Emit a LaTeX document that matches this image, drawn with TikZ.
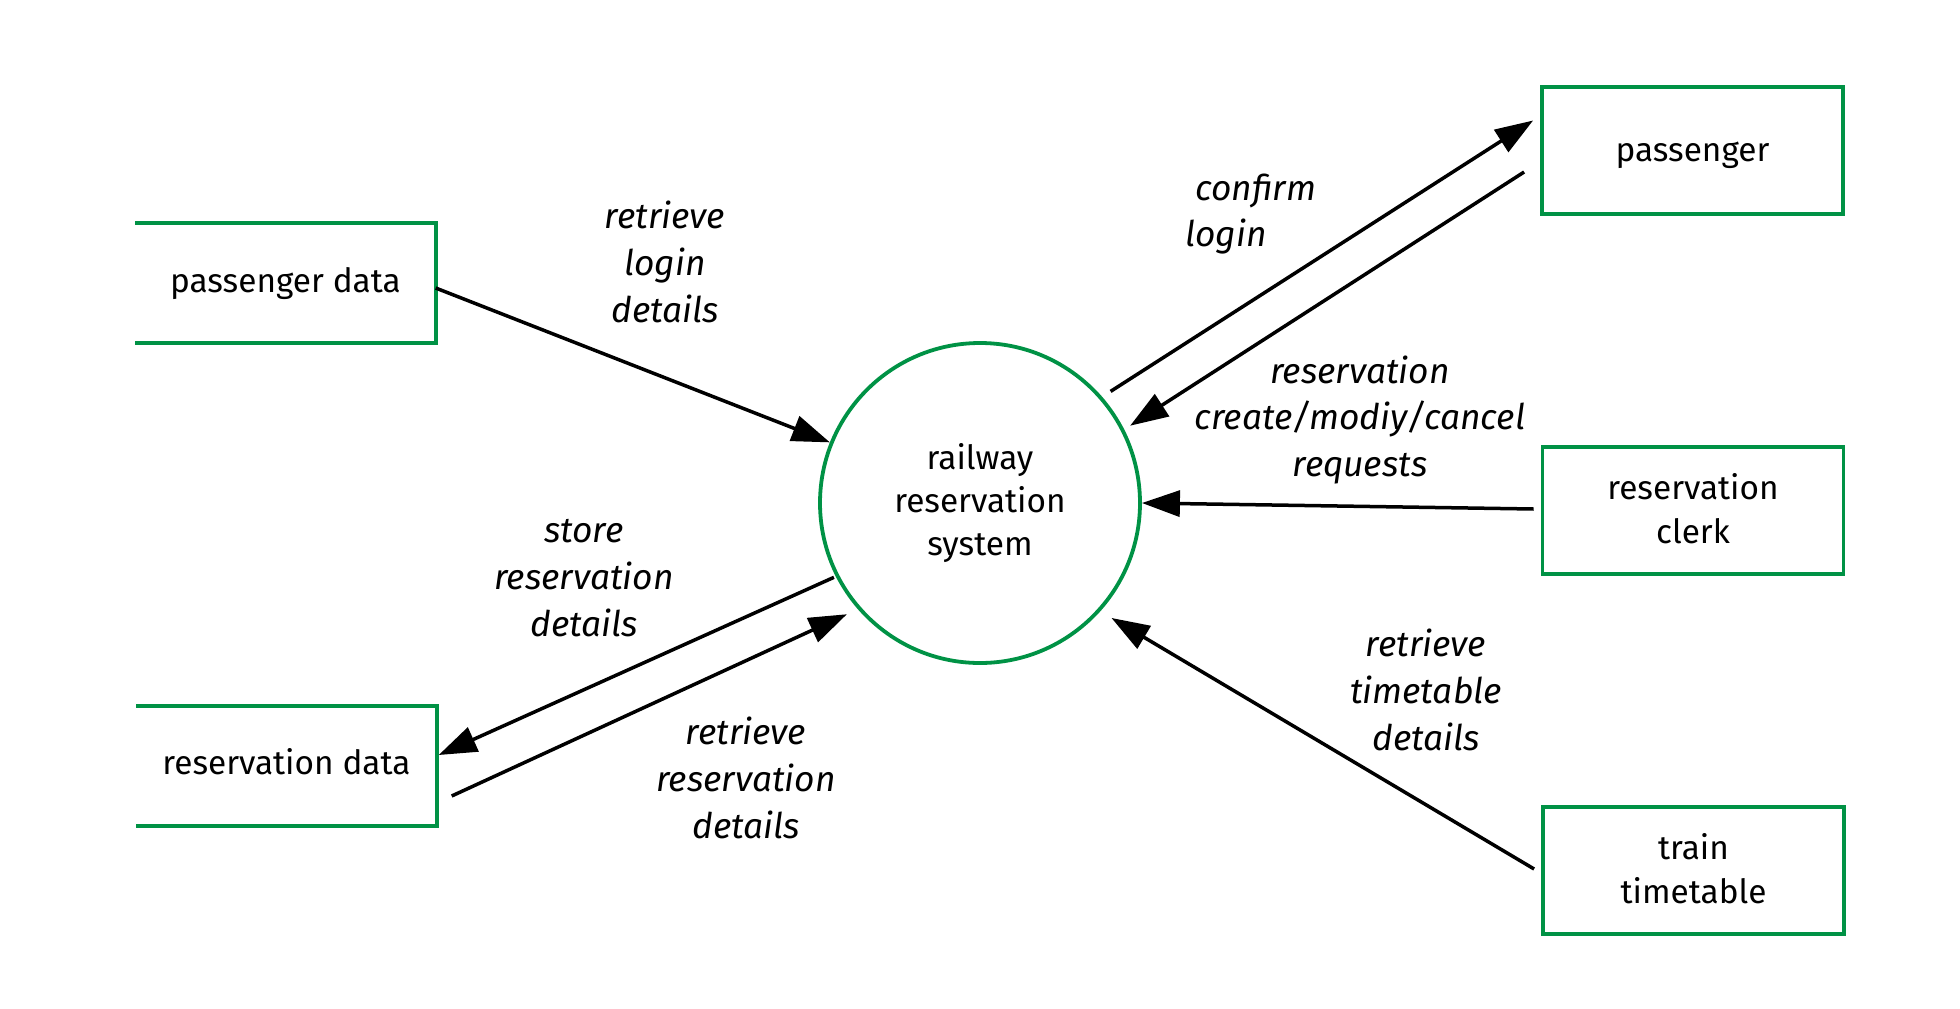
\documentclass[tikz,border=0pt]{standalone}
\usepackage{fontspec}
\setmainfont{Fira Sans}
\usetikzlibrary{arrows.meta}
\definecolor{dfdgreen}{RGB}{0,146,69}
\newcommand{\mvtxt}[2]{\raisebox{#1}[\height][\depth]{\begin{tabular}{@{}c@{}}#2\end{tabular}}}
\begin{document}
\begin{tikzpicture}[x=1bp,y=-1bp,
  proc/.style={circle,draw=dfdgreen,line width=3.8bp,minimum size=320bp,inner sep=0pt,align=center,font=\fontsize{33.5}{43}\selectfont},
  ent/.style={draw=dfdgreen,line width=3.8bp,minimum width=301bp,minimum height=127bp,inner sep=0pt,align=center,font=\fontsize{33.5}{44}\selectfont},
  store/.style={minimum width=300bp,minimum height=120bp,inner sep=0pt,align=center,font=\fontsize{33.5}{43}\selectfont},
  storeline/.style={draw=dfdgreen,line width=3.8bp},
  flow/.style={line width=3.5bp,-{Triangle[length=38bp,width=26bp]}},
  lbl/.style={align=center,font=\fontsize{35.5}{47}\selectfont\itshape}
]
\useasboundingbox (0,0) rectangle (1960,1008);
\node[proc] (sys) at (980,503) {railway\\reservation\\system};
\node[store] (pd) at (285.5,283) {\mvtxt{-1bp}{passenger data}};
\draw[storeline] (pd.north west) -- (pd.north east) -- (pd.south east) -- (pd.south west);
\node[store] (rd) at (286.5,766) {\mvtxt{0bp}{reservation data}};
\draw[storeline] (rd.north west) -- (rd.north east) -- (rd.south east) -- (rd.south west);
\node[ent] (pas) at (1692.5,150.5) {\mvtxt{-2.5bp}{passenger}};
\node[ent] (clerk) at (1693,510.5) {\mvtxt{-2bp}{reservation\\clerk}};
\node[ent] (tt) at (1693.5,870.5) {\mvtxt{-2bp}{train\\timetable}};

\draw[flow] ([yshift=-5bp]pd.east) -- (sys.158);
\draw[flow,shorten <=10bp] (sys.41.4) -- ([shift={(-7bp,30bp)}]pas.west);
\draw[flow,shorten >=7bp] ([shift={(-16bp,-21.5bp)}]pas.west) -- (sys.27.5);
\draw[flow] ([shift={(-7bp,1.5bp)}]clerk.west) -- (sys.0);
\draw[flow,shorten >=13bp] ([shift={(-7bp,1.5bp)}]tt.west) -- (sys.-42.4);
\draw[flow,shorten <=2bp] (sys.207.5) -- ([shift={(2bp,11bp)}]rd.east);
\draw[flow,shorten >=12bp] ([shift={(15bp,-30bp)}]rd.east) -- (sys.221);

\node[lbl] (l1) at (665,262) {retrieve\\login\\details};
\node[lbl,anchor=west,align=left] (l2) at (1182,214) {\hspace*{10bp}confirm\\login};
\node[lbl] (l3) at (1360,420) {reservation\\create/modiy/cancel\\requests};
\node[lbl] (l4) at (584,578) {store\\reservation\\details};
\node[lbl] (l5) at (746,778) {retrieve\\reservation\\details};
\node[lbl] (l6) at (1426,690) {retrieve\\timetable\\details};
\end{tikzpicture}
\end{document}
